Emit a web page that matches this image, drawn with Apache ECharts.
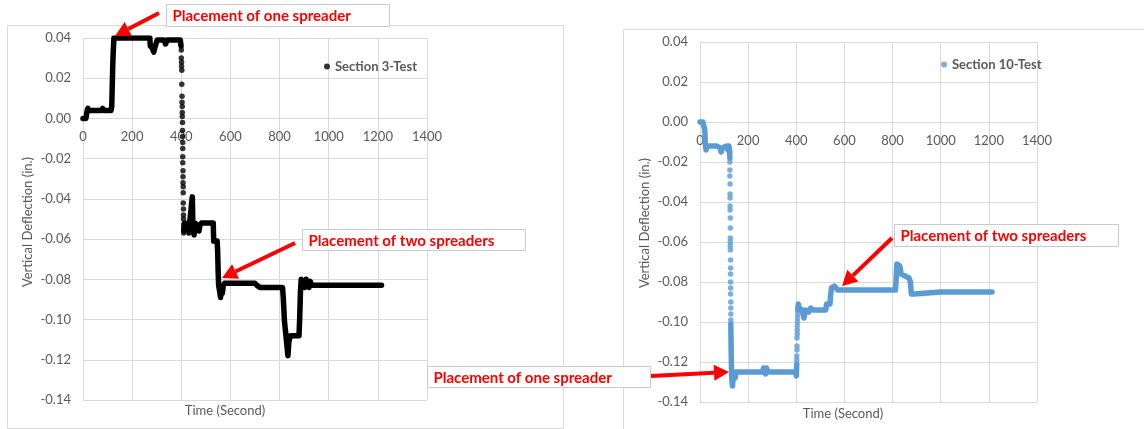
<!DOCTYPE html>
<html>
<head>
<meta charset="utf-8">
<title>Vertical deflection, Section 3 and Section 10</title>
<script src="https://cdn.jsdelivr.net/npm/echarts@6/dist/echarts.min.js"></script>
<style>
  html, body { margin: 0; padding: 0; background: #fff; }
  #chart { width: 1144px; height: 429px; }
</style>
</head>
<body>
<div id="chart"></div>
<script>
// --- data: [time (s), deflection (in.)] ---
const xTicks = { min: 0, max: 1400, step: 200 };
const yTicks = { min: -0.14, max: 0.04, step: 0.02 };

// Section 3
const sec3Early = [
  [0, 0.000], [12, 0.000], [15, 0.000], [17, 0.004], [20, 0.005], [24, 0.004],
  [50, 0.004], [76, 0.004], [80, 0.005], [84, 0.004], [114, 0.004], [117, 0.006],
  [119, 0.016], [121, 0.026], [123, 0.033], [126, 0.040], [130, 0.040], [200, 0.040],
  [272, 0.040], [274, 0.036], [282, 0.035], [288, 0.033], [292, 0.035], [299, 0.035],
  [302, 0.039], [330, 0.039], [336, 0.037], [342, 0.039], [396, 0.039], [399, 0.036],
];
const sec3Drop = [
  [400, 0.034], [400, 0.030], [401, 0.028], [401, 0.026], [402, 0.024], [402, 0.017],
  [403, 0.011], [403, 0.008], [404, 0.006], [404, 0.003], [404, 0.001], [405, -0.002],
  [405, -0.006], [405, -0.009], [406, -0.012], [406, -0.015], [406, -0.019], [406, -0.022],
  [407, -0.026], [407, -0.029], [407, -0.032], [408, -0.034], [408, -0.037], [408, -0.042],
  [409, -0.045], [409, -0.048], [409, -0.050], [410, -0.053], [410, -0.055], [410, -0.057],
];
const sec3Late = [
  [410, -0.056], [413, -0.052], [422, -0.053], [428, -0.052], [431, -0.057], [434, -0.052],
  [441, -0.052], [443, -0.041], [445, -0.039], [447, -0.052], [452, -0.058], [456, -0.052],
  [466, -0.053], [472, -0.056], [476, -0.053], [482, -0.052], [530, -0.052], [532, -0.061],
  [546, -0.061], [548, -0.066], [550, -0.076], [552, -0.083], [556, -0.086], [560, -0.089],
  [563, -0.084], [567, -0.087], [571, -0.083], [576, -0.082], [640, -0.082], [700, -0.082],
  [708, -0.083], [720, -0.084], [812, -0.084], [815, -0.089], [820, -0.101], [826, -0.108],
  [830, -0.113], [834, -0.118], [838, -0.111], [844, -0.108], [879, -0.108], [882, -0.099],
  [885, -0.086], [888, -0.080], [892, -0.083], [898, -0.082], [903, -0.084], [908, -0.080],
  [914, -0.082], [920, -0.084], [925, -0.081], [930, -0.083], [1000, -0.083], [1215, -0.083],
];

// Section 10
const sec10Early = [
  [0, 0.000], [12, 0.000], [15, 0.001], [18, 0.001], [20, -0.004], [22, -0.011],
  [25, -0.014], [28, -0.012], [45, -0.012], [70, -0.012], [84, -0.013], [88, -0.015],
  [92, -0.013], [98, -0.012], [110, -0.012], [116, -0.014], [120, -0.012], [123, -0.014],
  [124, -0.018],
];
const sec10Drop = [
  [124, -0.020], [124, -0.024], [124, -0.027], [125, -0.031], [125, -0.036], [125, -0.038],
  [125, -0.042], [125, -0.044], [126, -0.048], [126, -0.053], [126, -0.058], [126, -0.060],
  [126, -0.062], [126, -0.064], [127, -0.069], [127, -0.073], [127, -0.076], [127, -0.080],
  [127, -0.083], [127, -0.086], [128, -0.090], [128, -0.093], [128, -0.096], [128, -0.099],
];
const sec10Low = [
  [128, -0.101], [129, -0.110], [130, -0.118], [131, -0.126], [133, -0.130], [135, -0.132],
  [138, -0.127], [142, -0.125], [146, -0.128], [150, -0.125], [210, -0.125], [260, -0.125],
  [264, -0.123], [269, -0.123], [272, -0.126], [276, -0.123], [282, -0.125], [325, -0.125],
  [332, -0.124], [340, -0.125], [398, -0.125], [400, -0.127], [402, -0.121],
];
const sec10Rise = [
  [402, -0.119], [402, -0.117], [403, -0.114], [403, -0.112], [403, -0.108], [404, -0.106],
  [404, -0.104], [404, -0.102], [405, -0.100], [405, -0.098], [406, -0.096],
];
const sec10High = [
  [406, -0.094], [408, -0.091], [412, -0.093], [418, -0.092], [424, -0.094], [428, -0.093],
  [432, -0.098], [435, -0.099], [438, -0.094], [445, -0.093], [452, -0.095], [460, -0.093],
  [470, -0.094], [522, -0.094], [526, -0.091], [540, -0.091], [543, -0.086], [546, -0.083],
  [552, -0.083], [558, -0.082], [566, -0.083], [572, -0.084], [700, -0.084], [812, -0.084],
  [815, -0.078], [818, -0.071], [824, -0.070], [830, -0.072], [836, -0.076], [842, -0.077],
  [868, -0.078], [874, -0.080], [878, -0.086], [884, -0.085], [890, -0.086], [895, -0.085],
  [1000, -0.085], [1213, -0.085],
];

const BLACK = "#000000";
const BLUE = "#5b9bd5";
const RED = "#ff0000";
const GRID_GRAY = "#d9d9d9";
const TEXT_GRAY = "#595959";
const FONT = "Lato";

// the x axis sits on the zero line of its grid (offset up from the grid bottom)
function xAxisFor(gridIndex, offsetUp) {
  return {
    type: "value",
    gridIndex,
    min: xTicks.min,
    max: xTicks.max,
    interval: xTicks.step,
    offset: -offsetUp,
    axisLine: { show: true, onZero: false, lineStyle: { color: GRID_GRAY } },
    axisTick: { show: false },
    axisLabel: {
      color: TEXT_GRAY, fontSize: 13, fontFamily: FONT, margin: 12,
      formatter: (v) => String(v),
    },
    splitLine: { show: true, lineStyle: { color: GRID_GRAY } },
  };
}

function yAxisFor(gridIndex) {
  return {
    type: "value",
    gridIndex,
    min: yTicks.min,
    max: yTicks.max,
    interval: yTicks.step,
    axisLine: { show: false },
    axisTick: { show: false },
    axisLabel: {
      color: TEXT_GRAY, fontSize: 13, fontFamily: FONT, margin: 12,
      formatter: (v) => v.toFixed(2),
    },
    splitLine: { lineStyle: { color: GRID_GRAY } },
  };
}

function trace(name, data, color, idx) {
  return {
    name, type: "line", data, xAxisIndex: idx, yAxisIndex: idx,
    showSymbol: false, symbol: "none",
    lineStyle: { color, width: 5.5, join: "round", cap: "round" },
  };
}

function dots(name, data, color, idx) {
  return {
    name, type: "scatter", data, xAxisIndex: idx, yAxisIndex: idx,
    symbol: "circle", symbolSize: 5.5,
    itemStyle: { color },
  };
}

// annotation helpers (arrows + labelled boxes)
function arrow(x1, y1, x2, y2) {
  const dx = x2 - x1, dy = y2 - y1;
  const len = Math.hypot(dx, dy);
  const ux = dx / len, uy = dy / len;
  const head = 15, half = 8;
  const bx = x2 - ux * head, by = y2 - uy * head;
  return [
    { type: "line", z: 100, shape: { x1, y1, x2: bx, y2: by },
      style: { stroke: RED, lineWidth: 4 } },
    { type: "polygon", z: 100,
      shape: { points: [[x2, y2], [bx - uy * half, by + ux * half], [bx + uy * half, by - ux * half]] },
      style: { fill: RED } },
  ];
}

function noteBox(x, y, w, h, text) {
  return [
    { type: "rect", z: 99, shape: { x, y, width: w, height: h },
      style: { fill: "#fff", stroke: "#c9c9c9", lineWidth: 1 } },
    { type: "text", z: 100, style: {
        text, x: x + 6, y: y + h / 2 + 1, fill: RED,
        font: `bold 15px ${FONT}`, textAlign: "left", textVerticalAlign: "middle" } },
  ];
}

function axisTitle(text, x, y, rotated) {
  return {
    type: "text", z: 5, x, y, rotation: rotated ? Math.PI / 2 : 0,
    style: { text, x: 0, y: 0, fill: TEXT_GRAY, font: `13px ${FONT}`,
      textAlign: "center", textVerticalAlign: "middle" },
  };
}

const legendText = { color: TEXT_GRAY, fontSize: 13, fontWeight: "bold", fontFamily: FONT };

const chart = echarts.init(document.getElementById("chart"));

const option = {
  animation: false,
  backgroundColor: "#fff",
  grid: [
    { left: 83, right: 717, top: 38, bottom: 29 },
    { left: 700, right: 107, top: 42, bottom: 27 },
  ],
  xAxis: [xAxisFor(0, 282), xAxisFor(1, 280)],
  yAxis: [yAxisFor(0), yAxisFor(1)],
  legend: [
    {
      data: ["Section 3-Test"], left: 319, top: 55, icon: "circle",
      itemWidth: 6, itemHeight: 6, textStyle: legendText,
    },
    {
      data: ["Section 10-Test"], left: 936, top: 53, icon: "circle",
      itemWidth: 6, itemHeight: 6, textStyle: legendText,
    },
  ],
  series: [
    dots("Section 3-Test", sec3Drop, BLACK, 0),
    trace("s3-early", sec3Early, BLACK, 0),
    trace("s3-late", sec3Late, BLACK, 0),
    dots("Section 10-Test", sec10Drop.concat(sec10Rise), BLUE, 1),
    trace("s10-early", sec10Early, BLUE, 1),
    trace("s10-low", sec10Low, BLUE, 1),
    trace("s10-high", sec10High, BLUE, 1),
  ],
  graphic: [
    // chart-area frames
    { type: "rect", z: 0, shape: { x: 7.5, y: 25.5, width: 556, height: 403 },
      style: { fill: "none", stroke: GRID_GRAY, lineWidth: 1 } },
    { type: "rect", z: 0, shape: { x: 623.5, y: 29.5, width: 540, height: 410 },
      style: { fill: "none", stroke: GRID_GRAY, lineWidth: 1 } },
    axisTitle("Time (Second)", 225, 411, false),
    axisTitle("Time (Second)", 843, 414, false),
    axisTitle("Vertical Deflection (in.)", 28, 222, true),
    axisTitle("Vertical Deflection (in.)", 645, 223, true),
    ...noteBox(166.5, 4.5, 223, 22, "Placement of one spreader"),
    ...arrow(159, 13, 115, 36),
    ...noteBox(302.5, 229.5, 223, 21, "Placement of two spreaders"),
    ...arrow(295, 243, 222, 278),
    ...noteBox(427.5, 366.5, 223, 21, "Placement of one spreader"),
    ...arrow(651, 376, 729, 372),
    ...noteBox(894.5, 224.5, 224, 22, "Placement of two spreaders"),
    ...arrow(892, 238, 842, 286),
  ],
};

chart.setOption(option);
window.addEventListener("resize", () => chart.resize());
</script>
</body>
</html>
